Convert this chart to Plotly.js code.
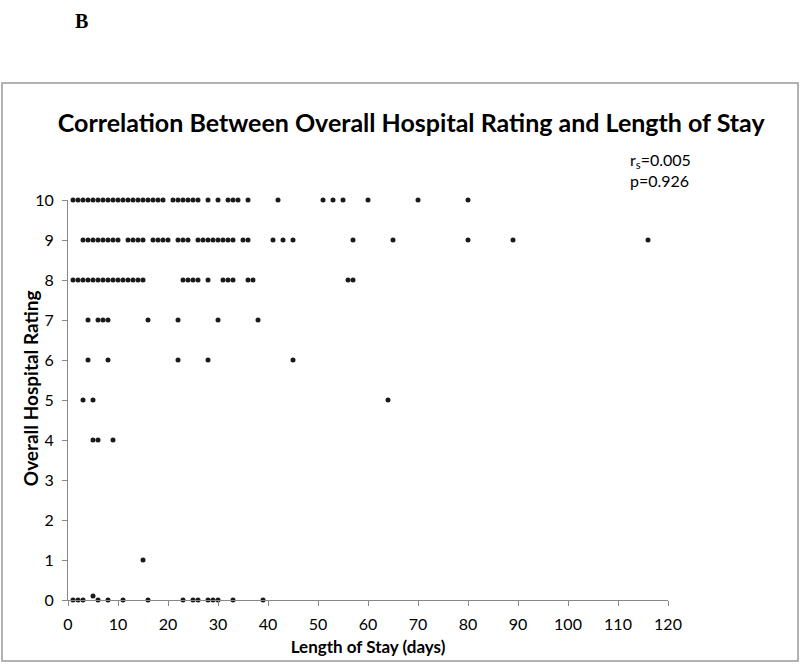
<!DOCTYPE html>
<html>
<head>
<meta charset="utf-8">
<script src="https://cdn.plot.ly/plotly-3.0.1.min.js"></script>
<style>
  body { margin: 0; background: #fff; }
  #chart { width: 800px; height: 664px; }
</style>
</head>
<body>
<div id="chart"></div>
<script>
// length of stay (days) for each rating level
var stay10 = [1,2,3,4,5,6,7,8,9,10,11,12,13,14,15,16,17,18,19,21,22,23,24,25,26,28,30,32,33,34,36,42,51,53,55,60,70,80];
var stay9  = [3,4,5,6,7,8,9,10,12,13,14,15,17,18,19,20,22,23,24,26,27,28,29,30,31,32,33,35,36,41,43,45,57,65,80,89,116];
var stay8  = [1,2,3,4,5,6,7,8,9,10,11,12,13,14,15,23,24,25,26,28,31,32,33,36,37,56,57];
var stay7  = [4,6,7,8,16,22,30,38];
var stay6  = [4,8,22,28,45];
var stay5  = [3,5,64];
var stay4  = [5,6,9];
var stay1  = [15];
var stay0  = [1,2,3,5,6,8,11,16,23,25,26,28,29,30,33,39];
var rating0 = [0,0,0,0.1,0,0,0,0,0,0,0,0,0,0,0,0];

var xTicks = [0,10,20,30,40,50,60,70,80,90,100,110,120];
var yTicks = [0,1,2,3,4,5,6,7,8,9,10];

var rows = [[stay10,10],[stay9,9],[stay8,8],[stay7,7],[stay6,6],[stay5,5],[stay4,4],[stay1,1]];
var xs = [], ys = [];
rows.forEach(function(r){
    r[0].forEach(function(d){ xs.push(d); ys.push(r[1]); });
});
stay0.forEach(function(d, i){ xs.push(d); ys.push(rating0[i]); });

var font = 'Lato, "Open Sans", sans-serif';

var trace = {
    x: xs,
    y: ys,
    mode: 'markers',
    type: 'scatter',
    cliponaxis: false,
    marker: { size: 5, color: '#1a1a1a' },
    hoverinfo: 'x+y'
};

var layout = {
    width: 800,
    height: 664,
    margin: { l: 68, r: 132, t: 200, b: 64 },
    paper_bgcolor: '#fff',
    plot_bgcolor: '#fff',
    showlegend: false,
    font: { family: font, size: 16, color: '#000' },
    title: {
        text: '<b>Correlation Between Overall Hospital Rating and Length of Stay</b>',
        font: { family: font, size: 25, color: '#000' },
        x: 0.514,
        xanchor: 'center',
        y: 0.815,
        yanchor: 'middle'
    },
    xaxis: {
        range: [0, 120],
        tickvals: xTicks,
        ticks: 'outside',
        ticklen: 5,
        tickcolor: '#888',
        ticklabelstandoff: 5,
        showline: true,
        linecolor: '#888',
        showgrid: false,
        zeroline: false,
        fixedrange: true,
        title: { text: '<b>Length of Stay (days)</b>', font: { size: 17 }, standoff: 8 }
    },
    yaxis: {
        range: [0, 10],
        tickvals: yTicks,
        ticks: 'outside',
        ticklen: 5,
        tickcolor: '#888',
        ticklabelstandoff: 5,
        showline: true,
        linecolor: '#888',
        showgrid: false,
        zeroline: false,
        fixedrange: true
    },
    annotations: [
        {
            // y axis title, placed by hand to sit right against the tick labels
            text: '<b>Overall Hospital Rating</b>',
            xref: 'paper', yref: 'paper',
            x: -0.063, y: 0.53,
            xanchor: 'center', yanchor: 'middle',
            textangle: -90,
            showarrow: false,
            font: { size: 19 }
        },
        {
            text: 'r<sub>s</sub>=0.005<br>p=0.926',
            xref: 'paper', yref: 'paper',
            x: 0.933, y: 1.13,
            xanchor: 'left', yanchor: 'top',
            align: 'left',
            showarrow: false,
            font: { size: 16 }
        },
        {
            text: '<b>B</b>',
            xref: 'paper', yref: 'paper',
            x: 0.022, y: 1.4475,
            xanchor: 'center', yanchor: 'middle',
            showarrow: false,
            font: { family: '"Liberation Serif", "DejaVu Serif", serif', size: 20 }
        }
    ],
    shapes: [
        {
            type: 'rect',
            xref: 'paper', yref: 'paper',
            x0: -0.11, x1: 1.2167,
            y0: -0.1525, y1: 1.2925,
            line: { color: '#999', width: 1.5 }
        }
    ]
};

Plotly.newPlot('chart', [trace], layout, { displayModeBar: false, staticPlot: true });
</script>
</body>
</html>
